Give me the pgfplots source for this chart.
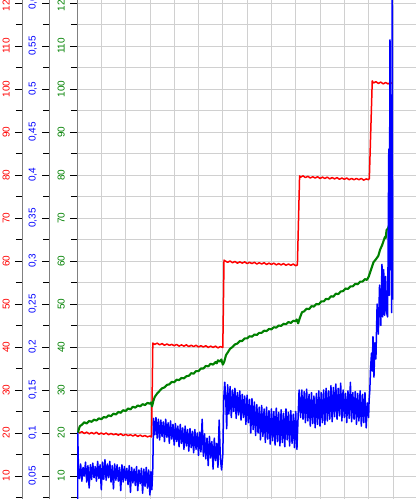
\documentclass[border=0pt]{standalone}
\usepackage{fontspec}
\setmainfont{Liberation Sans}
\usepackage{pgfplots}
\pgfplotsset{compat=1.18}

\definecolor{dgreen}{RGB}{0,128,0}
\definecolor{gridgray}{RGB}{208,208,208}

\pgfplotsset{
  scale3/.style={
    scale only axis, height=499pt,
    tick align=outside,
    major tick length=7pt, minor tick length=6pt,
    tick style={black, line width=0.8pt},
    y axis line style={gray, line width=0.8pt},
    tick label style={font=\fontsize{10}{12}\selectfont},
    yticklabel style={rotate=90, anchor=south, inner sep=0pt},
    yticklabel shift=5pt,
    /pgf/number format/assume math mode=true,
    /pgf/number format/use comma,
    /pgf/number format/1000 sep={},
  },
  ruler/.style={
    scale3, width=10pt, xmin=0, xmax=1,
    hide x axis, axis y line*=left,
  },
}

\begin{document}
\begin{tikzpicture}

% red scale
\begin{axis}[ruler, at={(22pt,0pt)}, ymin=4.65, ymax=120.7,
  ytick={10,20,...,120}, minor ytick={5,15,...,115},
  yticklabel style={text=red}]
\addplot[draw=none] coordinates {(0.5,50)};
\end{axis}

% blue scale
\begin{axis}[ruler, at={(49pt,0pt)}, ymin=0.02325, ymax=0.6035,
  scaled y ticks=false,
  ytick={0.05,0.1,0.15,0.2,0.25,0.3,0.35,0.4,0.45,0.5,0.55,0.6},
  minor ytick={0.025,0.075,0.125,0.175,0.225,0.275,0.325,0.375,0.425,0.475,0.525,0.575},
  yticklabel style={text=blue, /pgf/number format/fixed, /pgf/number format/precision=2}]
\addplot[draw=none] coordinates {(0.5,0.3)};
\end{axis}

% green scale, grid, red and green series
\begin{axis}[scale3, at={(77pt,0pt)}, width=339pt,
  xmin=0, xmax=13.95, ymin=4.65, ymax=120.7,
  axis y line*=left, axis x line*=bottom,
  x axis line style={draw=none}, xtick style={draw=none},
  xtick={0,...,13}, xticklabels={},
  ytick={10,20,...,120}, minor ytick={5,15,...,115},
  yticklabel style={text=dgreen},
  grid=both,
  grid style={gridgray, line width=0.8pt},
  minor grid style={gridgray, line width=0.8pt},
  every axis plot/.append style={line join=round}]
\addplot[red, line width=1.5pt] coordinates {
(0.04,20.3)(0.1,20.0)(0.2,20.3)(0.3,19.9)(0.4,20.2)(0.5,19.8)(0.6,20.1)(0.7,19.8)
(0.8,20.2)(0.9,19.7)(1.0,20.0)(1.1,19.7)(1.2,20.0)(1.3,19.6)(1.4,19.9)(1.5,19.6)
(1.6,19.8)(1.7,19.5)(1.8,19.8)(1.9,19.4)(2.0,19.7)(2.1,19.4)(2.2,19.6)(2.3,19.3)
(2.4,19.6)(2.5,19.2)(2.6,19.5)(2.7,19.2)(2.8,19.4)(2.9,19.1)(3.0,19.3)(3.07,19.1)
(3.12,40.9)(3.2,40.6)(3.3,40.9)(3.4,40.5)(3.5,40.8)(3.6,40.4)(3.7,40.7)(3.8,40.4)
(3.9,40.6)(4.0,40.3)(4.1,40.6)(4.2,40.2)(4.3,40.5)(4.4,40.2)(4.5,40.5)(4.6,40.1)
(4.7,40.4)(4.8,40.1)(4.9,40.4)(5.0,40.0)(5.1,40.3)(5.2,40.0)(5.3,40.3)(5.4,39.9)
(5.5,40.2)(5.6,39.9)(5.7,40.2)(5.8,39.8)(5.9,40.1)(6.0,39.9)
(6.05,60.2)(6.1,60.0)(6.2,59.7)(6.3,60.0)(6.4,59.6)(6.5,59.9)(6.6,59.5)(6.7,59.8)
(6.8,59.5)(6.9,59.8)(7.0,59.4)(7.1,59.7)(7.2,59.4)(7.3,59.7)(7.4,59.3)(7.5,59.6)
(7.6,59.3)(7.7,59.6)(7.8,59.2)(7.9,59.5)(8.0,59.2)(8.1,59.5)(8.2,59.1)(8.3,59.4)
(8.4,59.1)(8.5,59.4)(8.6,59.0)(8.7,59.3)(8.8,59.0)(8.9,59.3)(9.0,58.9)(9.07,59.1)
(9.16,79.8)(9.2,79.5)(9.3,79.8)(9.4,79.4)(9.5,79.7)(9.6,79.3)(9.7,79.6)(9.8,79.3)
(9.9,79.6)(10.0,79.2)(10.1,79.5)(10.2,79.2)(10.3,79.5)(10.4,79.1)(10.5,79.4)
(10.6,79.1)(10.7,79.4)(10.8,79.0)(10.9,79.3)(11.0,79.0)(11.1,79.3)(11.2,78.9)
(11.3,79.2)(11.4,78.9)(11.5,79.2)(11.6,78.9)(11.7,79.2)(11.8,78.8)(11.9,79.1)
(12.0,78.9)(12.03,79.2)(12.15,101.9)(12.2,101.4)(12.3,101.7)(12.4,101.3)
(12.5,101.6)(12.6,101.2)(12.7,101.5)(12.8,101.2)(12.9,101.5)(12.96,101.3)
};
\addplot[dgreen, line width=2.1pt] coordinates {
(0.04,20.0)(0.08,21.0)(0.12,21.6)(0.2,21.9)(0.3,22.5)(0.4,22.2)(0.5,22.8)(0.6,22.6)
(0.7,23.1)(0.8,22.9)(0.9,23.4)(1.0,23.2)(1.1,23.7)(1.2,23.6)(1.3,24.1)(1.4,23.9)
(1.5,24.5)(1.6,24.3)(1.7,24.9)(1.8,24.7)(1.9,25.3)(2.0,25.1)(2.1,25.7)(2.2,25.5)
(2.3,26.1)(2.4,25.9)(2.5,26.4)(2.6,26.2)(2.7,26.7)(2.8,26.5)(2.9,27.0)(3.0,26.8)
(3.05,27.1)(3.09,26.2)(3.14,27.4)(3.2,28.4)(3.3,29.2)(3.4,29.8)(3.5,30.4)(3.6,30.6)
(3.7,31.2)(3.8,31.3)(3.9,31.9)(4.0,31.8)(4.1,32.4)(4.2,32.3)(4.3,32.8)(4.4,32.7)
(4.5,33.2)(4.6,33.3)(4.7,33.9)(4.8,33.8)(4.9,34.4)(5.0,34.4)(5.1,35.0)(5.2,35.0)
(5.3,35.6)(5.4,35.5)(5.5,36.1)(5.6,35.9)(5.7,36.5)(5.75,36.2)(5.8,36.9)(5.88,36.6)
(5.94,37.1)(6.0,35.9)(6.06,36.6)(6.13,38.1)(6.2,38.7)(6.3,39.6)(6.4,40.0)(6.5,40.6)
(6.6,40.8)(6.7,41.4)(6.8,41.4)(6.9,42.0)(7.0,42.0)(7.1,42.5)(7.2,42.4)(7.3,42.9)
(7.4,42.8)(7.5,43.3)(7.6,43.3)(7.7,43.8)(7.8,43.7)(7.9,44.2)(8.0,44.1)(8.1,44.6)
(8.2,44.5)(8.3,45.0)(8.4,44.9)(8.5,45.4)(8.6,45.3)(8.7,45.8)(8.8,45.6)(8.9,46.1)
(9.0,46.0)(9.04,46.4)(9.1,45.5)(9.16,46.6)(9.26,48.1)(9.35,48.3)(9.45,48.9)
(9.55,48.8)(9.65,49.5)(9.75,49.4)(9.85,50.0)(9.95,49.9)(10.05,50.6)(10.15,50.6)
(10.25,51.2)(10.35,51.1)(10.45,51.8)(10.55,51.7)(10.65,52.4)(10.75,52.3)
(10.85,52.9)(10.95,53.0)(11.05,53.6)(11.15,53.5)(11.25,54.1)(11.35,54.1)
(11.45,54.7)(11.55,54.6)(11.65,55.2)(11.75,55.2)(11.85,55.8)(11.93,55.6)
(12.0,56.3)(12.1,58.0)(12.2,59.7)(12.3,60.4)(12.4,61.2)(12.47,62.6)(12.55,63.6)
(12.6,64.4)(12.67,65.6)(12.7,65.3)(12.74,67.2)(12.8,67.6)(12.86,68.6)(12.9,69.2)
(12.96,70.2)
};
\end{axis}

% blue series on its own scale
\begin{axis}[scale only axis, at={(77pt,0pt)}, width=339pt, height=499pt,
  xmin=0, xmax=13.95, ymin=0.02325, ymax=0.6035, hide axis]
\addplot[blue, line width=1.5pt, line join=round] coordinates {
(0.02,0.0)(0.03,0.100)(0.06,0.058)(0.10,0.047)(0.15,0.064)(0.20,0.044)(0.25,0.060)
(0.30,0.050)(0.35,0.066)(0.40,0.043)(0.45,0.062)(0.50,0.036)(0.55,0.063)(0.60,0.046)
(0.65,0.065)(0.70,0.048)(0.75,0.061)(0.80,0.044)(0.85,0.067)(0.90,0.047)(0.95,0.063)
(1.00,0.034)(1.05,0.066)(1.10,0.046)(1.15,0.069)(1.20,0.045)(1.25,0.064)(1.30,0.048)
(1.35,0.067)(1.40,0.043)(1.45,0.062)(1.50,0.035)(1.55,0.064)(1.60,0.045)(1.65,0.063)
(1.70,0.044)(1.75,0.060)(1.80,0.033)(1.85,0.063)(1.90,0.043)(1.95,0.061)(2.00,0.045)
(2.05,0.059)(2.10,0.040)(2.15,0.062)(2.20,0.031)(2.25,0.060)(2.30,0.042)(2.35,0.058)
(2.40,0.039)(2.45,0.061)(2.50,0.033)(2.55,0.057)(2.60,0.041)(2.65,0.059)(2.70,0.030)
(2.75,0.058)(2.80,0.038)(2.85,0.060)(2.90,0.036)(2.95,0.057)(3.00,0.028)(3.04,0.055)
(3.08,0.034)(3.12,0.060)(3.15,0.117)
(3.20,0.098)(3.25,0.118)(3.30,0.094)(3.35,0.116)(3.40,0.092)(3.45,0.115)(3.50,0.096)
(3.55,0.113)(3.60,0.090)(3.65,0.116)(3.70,0.095)(3.75,0.112)(3.80,0.088)(3.85,0.114)
(3.90,0.093)(3.95,0.110)(4.00,0.086)(4.05,0.111)(4.10,0.090)(4.15,0.108)(4.20,0.084)
(4.25,0.110)(4.30,0.088)(4.35,0.106)(4.40,0.081)(4.45,0.108)(4.50,0.085)(4.55,0.104)
(4.60,0.079)(4.65,0.105)(4.70,0.083)(4.75,0.102)(4.80,0.077)(4.85,0.104)(4.90,0.081)
(4.95,0.100)(5.00,0.074)(5.05,0.101)(5.10,0.078)(5.15,0.116)(5.20,0.073)(5.25,0.099)
(5.30,0.070)(5.35,0.094)(5.40,0.062)(5.45,0.096)(5.50,0.071)(5.55,0.090)(5.60,0.058)
(5.65,0.094)(5.70,0.068)(5.75,0.088)(5.80,0.060)(5.85,0.115)(5.90,0.070)(5.95,0.057)
(6.00,0.075)(6.04,0.140)(6.08,0.159)
(6.12,0.140)(6.16,0.105)(6.20,0.156)(6.25,0.122)(6.30,0.154)(6.35,0.118)(6.40,0.150)
(6.45,0.125)(6.50,0.152)(6.55,0.117)(6.60,0.147)(6.65,0.121)(6.70,0.149)(6.75,0.115)
(6.80,0.145)(6.85,0.118)(6.90,0.143)(6.95,0.110)(7.00,0.144)(7.05,0.112)(7.10,0.139)
(7.15,0.100)(7.20,0.140)(7.25,0.104)(7.30,0.136)(7.35,0.097)(7.40,0.133)(7.45,0.100)
(7.50,0.130)(7.55,0.092)(7.60,0.132)(7.65,0.096)(7.70,0.128)(7.75,0.089)(7.80,0.130)
(7.85,0.093)(7.90,0.126)(7.95,0.087)(8.00,0.128)(8.05,0.091)(8.10,0.125)(8.15,0.086)
(8.20,0.129)(8.25,0.090)(8.30,0.124)(8.35,0.085)(8.40,0.127)(8.45,0.089)(8.50,0.123)
(8.55,0.084)(8.60,0.128)(8.65,0.092)(8.70,0.124)(8.75,0.085)(8.80,0.126)(8.85,0.088)
(8.90,0.122)(8.95,0.083)(9.00,0.125)(9.05,0.081)(9.10,0.120)(9.14,0.150)
(9.20,0.118)(9.25,0.150)(9.30,0.116)(9.35,0.148)(9.40,0.112)(9.45,0.151)(9.50,0.114)
(9.55,0.145)(9.60,0.108)(9.65,0.147)(9.70,0.111)(9.75,0.143)(9.80,0.106)(9.85,0.146)
(9.90,0.110)(9.95,0.149)(10.00,0.108)(10.05,0.147)(10.10,0.112)(10.15,0.150)
(10.20,0.110)(10.25,0.152)(10.30,0.114)(10.35,0.149)(10.40,0.116)(10.45,0.155)
(10.50,0.113)(10.55,0.153)(10.60,0.119)(10.65,0.157)(10.70,0.116)(10.75,0.152)
(10.80,0.120)(10.85,0.158)(10.90,0.114)(10.95,0.150)(11.00,0.118)(11.05,0.146)
(11.10,0.112)(11.15,0.149)(11.20,0.117)(11.25,0.159)(11.30,0.113)(11.35,0.147)
(11.40,0.116)(11.45,0.148)(11.50,0.110)(11.55,0.146)(11.60,0.114)(11.65,0.149)
(11.70,0.108)(11.75,0.145)(11.80,0.112)(11.85,0.147)(11.90,0.106)(11.95,0.135)
(12.00,0.118)(12.02,0.138)(12.05,0.150)(12.08,0.175)(12.12,0.193)(12.15,0.172)
(12.18,0.212)(12.22,0.165)(12.26,0.205)(12.30,0.186)(12.35,0.250)(12.40,0.215)
(12.45,0.272)(12.50,0.225)(12.55,0.296)(12.58,0.235)(12.62,0.290)(12.66,0.237)
(12.70,0.282)(12.74,0.240)(12.78,0.235)(12.80,0.300)(12.83,0.430)(12.85,0.260)
(12.88,0.557)(12.90,0.290)(12.93,0.450)(12.95,0.240)(12.97,0.650)(12.99,0.255)
};
\end{axis}

\pgfresetboundingbox
\useasboundingbox (0pt,0pt) rectangle (416pt,499pt);
\end{tikzpicture}
\end{document}
